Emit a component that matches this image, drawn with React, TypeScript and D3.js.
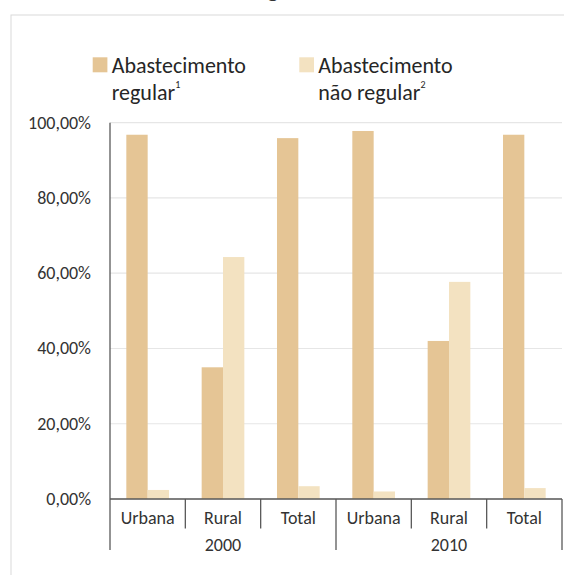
import React from "react";
import * as d3 from "d3";

const categories = ["Urbana", "Rural", "Total", "Urbana", "Rural", "Total"];
const groups = ["2000", "2010"];
const seriesNames = ["Abastecimento regular", "Abastecimento não regular"];
const regular = [96.8, 35.0, 95.9, 97.8, 42.0, 96.8];
const naoRegular = [2.4, 64.3, 3.4, 2.0, 57.7, 2.9];
const yTicks = [0, 20, 40, 60, 80, 100];
const colors = ["#E5C595", "#F3E2C1"];

const W = 564;
const H = 575;
const FONT = "Carlito, Calibri, Lato, 'Open Sans', sans-serif";

export default function App() {
  const x0 = 110;
  const x1 = 562;
  const yBase = 499;
  const yTop = 122.7;
  const y = d3.scaleLinear().domain([0, 100]).range([yBase, yTop]);
  const keys = categories.map((_, i) => String(i));
  const xCat = d3.scaleBand().domain(keys).range([x0, x1]).padding(0);
  const xSer = d3
    .scaleBand()
    .domain(["0", "1"])
    .range([0, xCat.bandwidth()])
    .paddingInner(0)
    .paddingOuter(0.765);
  const data = [regular, naoRegular];
  const fmt = (v: number) => v.toFixed(2).replace(".", ",") + "%";
  const groupSize = 3;

  return (
    <svg
      width={W}
      height={H}
      style={{ position: "absolute", left: 0, top: 0, fontFamily: FONT }}
    >
      <rect x={0} y={0} width={W} height={H} fill="#fff" />
      <text x={273} y={-3} fontSize={24} fontWeight="bold" textAnchor="middle" fill="#333">
        g
      </text>
      <rect x={11} y={15} width={W + 20} height={H + 20} fill="#fff" stroke="#d9d9d9" strokeWidth={1} />

      {/* gridlines */}
      {yTicks.map((t) => (
        <line key={"g" + t} x1={x0} x2={x1} y1={y(t)} y2={y(t)} stroke="#e6e6e6" strokeWidth={1.2} />
      ))}
      {/* y labels */}
      {yTicks.map((t) => (
        <text key={"l" + t} x={91} y={y(t) + 6} fontSize={18} textAnchor="end" fill="#333">
          {fmt(t)}
        </text>
      ))}

      {/* bars */}
      {data.map((vals, s) =>
        vals.map((v, i) => (
          <rect
            key={s + "-" + i}
            x={(xCat(String(i)) as number) + (xSer(String(s)) as number)}
            y={y(v)}
            width={xSer.bandwidth()}
            height={y(0) - y(v)}
            fill={colors[s]}
          />
        ))
      )}

      {/* axes */}
      <line x1={x0} x2={x0} y1={yTop} y2={yBase} stroke="#595959" strokeWidth={1.3} />
      <line x1={x0} x2={x1} y1={yBase} y2={yBase} stroke="#595959" strokeWidth={1.3} />
      {d3.range(categories.length + 1).map((i) => {
        const xx = i < categories.length ? (xCat(String(i)) as number) : x1;
        const isGroup = i % groupSize === 0;
        return (
          <line
            key={"t" + i}
            x1={xx}
            x2={xx}
            y1={yBase}
            y2={isGroup ? 550 : 528.5}
            stroke="#595959"
            strokeWidth={1.3}
          />
        );
      })}
      {categories.map((c, i) => (
        <text
          key={"c" + i}
          x={(xCat(String(i)) as number) + xCat.bandwidth() / 2}
          y={523.5}
          fontSize={18}
          textAnchor="middle"
          fill="#333"
        >
          {c}
        </text>
      ))}
      {groups.map((g, gi) => (
        <text
          key={"gr" + g}
          x={(xCat(String(gi * groupSize)) as number) + (xCat.bandwidth() * groupSize) / 2}
          y={550.5}
          fontSize={18}
          textAnchor="middle"
          fill="#333"
        >
          {g}
        </text>
      ))}

      {/* legend */}
      {[
        { x: 92.7, l1: "Abastecimento", l2: "regular", sup: "1" },
        { x: 299.3, l1: "Abastecimento", l2: "não regular", sup: "2" },
      ].map((it, i) => (
        <g key={"lg" + i} aria-label={seriesNames[i]}>
          <rect x={it.x} y={57.3} width={14.7} height={15} fill={colors[i]} />
          <text x={it.x + 19} y={73.3} fontSize={22} fill="#262626">
            {it.l1}
          </text>
          <text x={it.x + 19} y={100} fontSize={22} fill="#262626">
            {it.l2}
            <tspan fontSize={10} dy={-12}>
              {it.sup}
            </tspan>
          </text>
        </g>
      ))}
    </svg>
  );
}
